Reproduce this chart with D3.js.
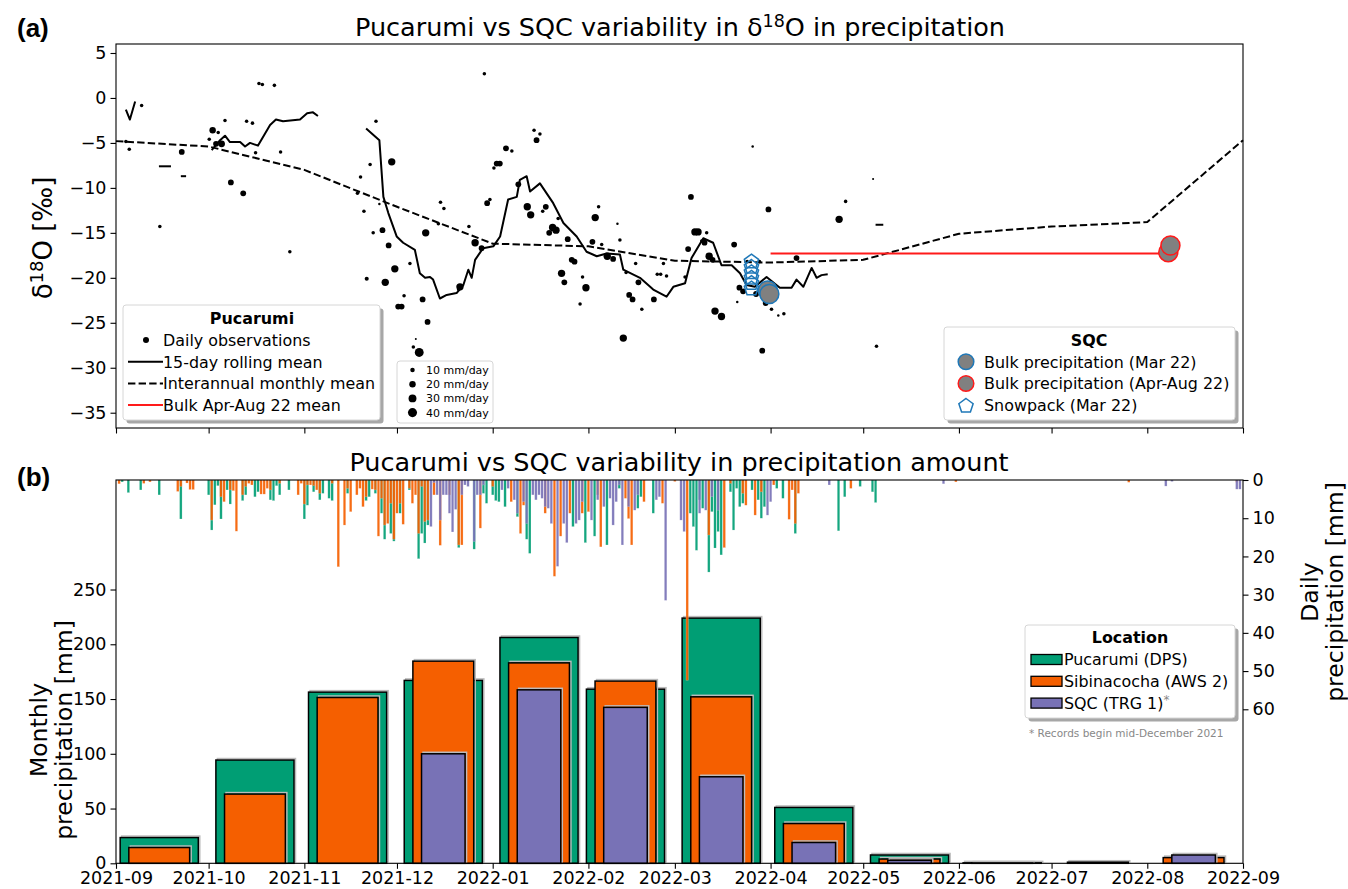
<!DOCTYPE html>
<html>
<head>
<meta charset="utf-8">
<script src="https://cdn.jsdelivr.net/npm/d3@7"></script>
<style>
body { margin: 0; background: #fff; }
svg { font-family: 'DejaVu Sans', sans-serif; }
</style>
</head>
<body>
<svg id="chart" width="1348" height="889"></svg>
<script>
// ---- data (day index counted from 2021-09-01) ----
const monthStarts = ['2021-09', '2021-10', '2021-11', '2021-12', '2022-01', '2022-02', '2022-03',
    '2022-04', '2022-05', '2022-06', '2022-07', '2022-08', '2022-09'];

// interannual monthly mean d18O at each month start
const interannualMean = [-4.8, -5.4, -8.0, -12.1, -16.2, -16.5, -18.1, -18.3, -18.0, -15.1, -14.3, -13.8, -4.7];

// 15-day rolling mean, split where the record has gaps
const rollingMean = [
    [[3.2, -1.3], [4.5, -2.4], [6.2, -0.4]],
    [[13.9, -7.6], [17.8, -7.6]],
    [[21, -8.7], [22.7, -8.7]],
    [[31, -5.8], [33.7, -4.7], [35.3, -4.2], [36.9, -4.9], [40.2, -4.9], [41.8, -5.4], [43.4, -5.0], [46, -5.3],
        [49.9, -3.0], [51.8, -2.4], [54.1, -2.6], [59.6, -2.4], [61.9, -1.7], [63.8, -1.6], [65.4, -2.0]],
    [[81, -3.4], [85.3, -4.7], [86.6, -11], [88.2, -12.8], [90.9, -15.4], [93, -16.1], [96.8, -16.9], [98.4, -19.5],
        [100.1, -20], [101.7, -19.9], [102.7, -20.2], [104.9, -22.3], [107.1, -21.9], [110.3, -21.7], [112.5, -20.8],
        [114.1, -19.1], [115.2, -20], [116.3, -18], [118.9, -16.7], [122.2, -16.5], [124.4, -15.4], [127, -11.3],
        [129.8, -11], [130.8, -9.1], [133, -8.7], [134.1, -10.4], [137.3, -9.5], [141.6, -11.7], [144.9, -13.9],
        [149.2, -15.4], [152.4, -17.1], [155.7, -17.6], [158.9, -17.3], [163.2, -17.4], [164.3, -19.1], [169.7, -20],
        [174, -21.3], [178.3, -22.1], [180.5, -21], [184.3, -20.6], [186.4, -17.8], [190.2, -15.6], [193.4, -16.1],
        [196.1, -18.6], [199.4, -18.6], [202.1, -19.5], [204.2, -20.8], [206.9, -21], [210.7, -19.9], [215, -21.1],
        [218.8, -21.1], [220.4, -20.2], [222.6, -21], [225.3, -18.9], [226.9, -20], [228.5, -19.7], [230.5, -19.6]],
    [[246, -14.1], [248.5, -14.1]]
];

// daily observations: [day, d18O, precipitation mm/day]
const dailyObs = [
    [3.2, -4.85, 6], [4.3, -5.7, 6], [8.3, -0.85, 6], [14.2, -14.3, 6], [21.3, -6.0, 16], [30.2, -4.6, 6],
    [31.3, -3.6, 20], [33.1, -3.85, 6], [32.4, -5.1, 16], [34.2, -5.1, 22], [35.3, -2.5, 6], [37.2, -9.4, 16],
    [41.2, -10.6, 16], [42.3, -2.6, 6], [44.2, -2.8, 6], [45.2, -6.1, 6], [46.3, 1.6, 6], [47.4, 1.5, 6],
    [51.3, 1.4, 6], [53.3, -6.0, 6], [56.3, -17.1, 6],
    [78.2, -10.6, 6], [79.2, -8.8, 6], [80.3, -12.6, 6], [81.2, -20.1, 8], [82.3, -7.4, 6], [83.3, -15, 6],
    [84.2, -2.6, 6], [85.3, -11.8, 3], [86.3, -14.7, 16], [87.2, -20.5, 26], [88.3, -16.4, 16], [89.3, -7.1, 26],
    [90.3, -19, 26], [91.4, -23.2, 16], [92.5, -23.2, 16], [93.3, -22, 6], [95.2, -18.4, 6], [96.3, -27.7, 6],
    [97.1, -26.8, 2], [98.2, -28.3, 38], [99.3, -22.4, 16], [100.3, -15, 26], [100.9, -24.9, 16],
    [104.4, -14, 6], [105.1, -11.6, 6], [106.2, -12.3, 6], [111, -21.3, 6], [111.4, -21, 26], [114.3, -14.3, 6],
    [116.3, -16.1, 26], [118.4, -16.7, 16], [119.3, 2.7, 6], [120.2, -11.7, 16], [121.1, -11.3, 6],
    [122.4, -7.8, 6], [123.3, -7.3, 16], [124.3, -7.3, 16], [126.3, -5.6, 16], [128.2, -5.9, 6],
    [130.3, -9.6, 16], [133.2, -12.1, 26], [134.3, -13, 26], [135.4, -3.6, 6], [136.2, -4.7, 16], [137.3, -4, 6],
    [138.2, -12.6, 6], [139.2, -12.1, 16], [140.3, -15, 16], [141.4, -14.4, 26], [142.5, -14.7, 26],
    [143.2, -13.4, 6], [144.3, -19.5, 26], [145.2, -20.5, 16], [146.3, -15.7, 16], [147.6, -18, 16],
    [148.5, -18.2, 16], [150.3, -22.9, 6], [151.1, -19.9, 6], [152.2, -21.1, 26], [154.3, -16, 16],
    [155.2, -13.3, 26], [156.3, -12.1, 6], [157.3, -16.3, 6], [159.1, -17.6, 26], [161, -17.9, 16],
    [162.4, -14, 3], [163.2, -15.8, 6], [164.3, -26.7, 26], [165.2, -19.4, 6], [166.2, -21.9, 16],
    [167.3, -22.4, 16], [168.3, -18.4, 6], [169.2, -20.5, 16], [170.3, -23.5, 6], [174.2, -22.4, 16],
    [175.3, -19.6, 6], [176.4, -19.6, 6], [177.3, -18.4, 6], [178.3, -19.8, 6], [184.3, -19.9, 6],
    [185.3, -16.8, 16], [186.2, -11, 16], [187.5, -14.9, 26], [188.5, -14.9, 26], [189.7, -15.9, 6],
    [190.6, -16.1, 16], [191.3, -15, 6], [192.1, -17.6, 26], [193.2, -18, 16], [194, -23.7, 26],
    [196.1, -24.3, 26], [200.2, -16.3, 16], [201.2, -22.7, 3], [201.9, -21.1, 16], [203.1, -21.5, 16],
    [204.4, -18.2, 6], [206.2, -5.4, 3], [207.3, -21.8, 16], [208.4, -18.2, 6], [209.3, -28.1, 16],
    [210.4, -22.8, 16], [211.3, -12.4, 16], [212.3, -23.5, 6], [214.5, -24.2, 3], [216.3, -24, 6],
    [220.4, -17.8, 16], [234.2, -13.5, 26], [236.3, -11.5, 6], [245.2, -9, 2], [246.3, -27.6, 6]
];

const bulkAprAugMean = { from: 212, to: 341, value: -17.3 };
const sqcBulkMar = [[211.1, -21.4], [211.6, -21.8]];
const sqcBulkAprAug = [[340.8, -17.15], [341.5, -16.4]];
const sqcSnowpack = [[205.8, -18.2], [205.8, -18.8], [205.8, -19.4], [205.8, -20.0], [205.8, -20.6], [205.8, -21.2]];

const sizeLegend = [10, 20, 30, 40];

// monthly totals, mm
const monthlyPucarumi = [23.5, 94.3, 156.3, 167, 206.2, 159, 223.9, 51, 7.6, 0.4, 0, 0];
const monthlySibinacocha = [14.4, 63.2, 151.4, 184.6, 183, 166.4, 152, 36.3, 3.9, 0.2, 1.0, 5.2];
const monthlySQC = [0, 0, 0, 100, 158.4, 142.4, 79, 19, 2.7, 0, 0, 7.6];

// daily totals: [day, mm]
const dailyPucarumi = [
    [2, 0.5], [4, 3.3], [8, 2.6], [14, 3.9], [21, 10.2], [30, 3.9], [31, 13.1], [32, 6.5], [33, 1.5], [34, 10.2],
    [36, 2.6], [37, 6.3], [41, 5.4], [42, 3.9], [45, 4.4], [46, 3.1], [50, 5.2], [51, 5.4], [52, 1.5], [53, 3.9],
    [56, 2.6], [61, 10.2], [62, 6.6], [64, 3.1], [66, 5.2], [67, 3.5], [69, 4.8], [70, 5.4], [75, 3.5], [81, 5.4],
    [82, 4.4], [84, 3.5], [86, 8.7], [87, 15.5], [89, 14], [90, 16], [92, 8.7], [95, 2.6], [98, 20.6], [99, 14],
    [100, 16.5], [101, 11.8], [111, 17.7], [116, 18.1], [119, 3.5], [120, 6.1], [122, 3.9], [123, 5.4],
    [124, 5.7], [126, 7], [130, 9.6], [133, 15.5], [134, 19.2], [148, 12.2], [152, 16.4], [155, 14.7], [159, 17],
    [163, 2.2], [169, 7.4], [170, 4.4], [174, 8.7], [186, 8.7], [187, 12.2], [188, 18.4], [189, 5.2], [190, 7.4],
    [192, 24.1], [193, 8.3], [194, 17.8], [195, 13.5], [196, 19.6], [199, 3.1], [200, 13.1], [201, 2.2],
    [202, 7], [203, 6.1], [206, 2.6], [208, 5.2], [209, 10], [210, 7], [214, 2.2], [216, 4.8], [220, 14],
    [234, 13.3], [236, 4.4], [241, 1.7], [245, 3.1], [246, 5.9]
];
const dailySibinacocha = [
    [1, 1], [9, 0.9], [11, 0.5], [20, 3], [21, 1.7], [23, 0.8], [24, 2.5], [25, 2.5], [31, 10.5], [34, 4.4],
    [35, 5.7], [37, 2.6], [38, 2.8], [39, 13.4], [41, 3.9], [42, 1.7], [43, 0.9], [44, 1.3], [47, 3.7], [48, 3.7],
    [49, 2.2], [50, 2.6], [53, 0.9], [59, 3.9], [60, 0.9], [61, 6.3], [62, 1.3], [63, 1.3], [64, 1.5], [65, 2.6],
    [66, 3.5], [70, 0.9], [72, 22.7], [74, 11.8], [75, 2.2], [76, 8.3], [78, 3.9], [79, 2.2], [80, 7], [81, 4.4],
    [83, 2.4], [84, 2.6], [85, 14.7], [86, 4.8], [87, 11.8], [88, 11.4], [89, 6.1], [90, 15.5], [91, 8.7],
    [92, 6.1], [93, 11.6], [95, 2.2], [96, 6.1], [97, 3.9], [98, 14], [99, 1.7], [100, 10.9], [101, 10.5],
    [103, 3.9], [105, 17.1], [108, 3.9], [111, 17], [112, 17], [118, 12.6], [122, 1.7], [128, 5.7], [131, 14],
    [132, 6.6], [139, 8.7], [142, 25.2], [144, 14.7], [147, 8.7], [151, 8.7], [153, 8.3], [156, 3.9], [157, 17.5],
    [165, 4.8], [166, 10.1], [167, 17], [171, 5.7], [177, 6.1], [181, 0.4], [185, 52.4], [192, 14.4], [197, 17.7],
    [199, 0.9], [203, 3.5], [204, 6.6], [207, 9.2], [209, 3.1], [213, 1.3], [218, 10.3], [219, 2.6], [220, 11.4],
    [221, 3.5], [238, 2.2], [272, 0.5], [328, 0.6], [363, 0.6]
];
const dailySQC = [
    [102, 12.2], [103, 0.7], [104, 3.9], [105, 10.5], [106, 3.9], [107, 3.9], [108, 8.7], [109, 13.6], [110, 7.7],
    [112, 3.9], [113, 1.3], [114, 1.7], [116, 16.1], [117, 3.9], [118, 3.9], [119, 1.3], [125, 2.6], [127, 2.2],
    [129, 5.2], [130, 8.7], [132, 5.7], [133, 11.4], [135, 3.9], [136, 5.2], [137, 3.9], [138, 4.8], [139, 7],
    [140, 7.4], [141, 11.4], [143, 22.6], [145, 11.4], [146, 16.4], [149, 11.4], [150, 10.5], [151, 5.7],
    [154, 10.5], [156, 5.2], [158, 7], [160, 4.8], [161, 11.8], [162, 5.7], [163, 1.3], [164, 17], [166, 7],
    [168, 7.9], [169, 3.9], [175, 5.2], [176, 4.4], [178, 31.5], [183, 10.5], [184, 13.5], [189, 8.7], [191, 7.9],
    [193, 4.4], [195, 7.9], [211, 9.2], [212, 5.7], [231, 1.3], [268, 1], [340, 1.6], [342, 0.4], [363, 2.4],
    [364, 2.4]
];

const green = '#009e74', orange = '#f55f00', purple = '#7872b6';
const blue = '#1f78b8', red = '#ff1a1a';

// ---- setup ----
const svg = d3.select('#chart');
const t0 = Date.UTC(2021, 8, 1);
const dayToDate = d => new Date(t0 + d * 864e5);
const parseMonth = d3.utcParse('%Y-%m');

const left = 116, right = 1243;
const top1 = 44, bottom1 = 428, top2 = 480, bottom2 = 863.3;

const x = d3.scaleUtc()
    .domain([parseMonth('2021-09'), parseMonth('2022-09')])
    .range([left, right]);
const yIso = d3.scaleLinear().domain([-36.7, 6]).range([bottom1, top1]);
const yMonth = d3.scaleLinear().domain([0, 350]).range([bottom2, top2]);
const yDaily = d3.scaleLinear().domain([0, 100.3]).range([top2, bottom2]);
const rSize = mm => 0.72 * Math.sqrt(mm);
const minus = d => d < 0 ? '\u2212' + Math.abs(d) : String(d);

const tickFont = 17.5, legFont = 15.9, titleFont = 25.5;

function styleAxis(g) {
    g.select('.domain').remove();
    g.selectAll('line').attr('stroke', '#000').attr('stroke-width', 1.1);
    g.selectAll('text').attr('font-size', tickFont).attr('fill', '#000')
        .attr('font-family', 'DejaVu Sans, sans-serif');
}

function legendBox(x0, y0, w, h) {
    svg.append('rect').attr('x', x0 + 3.5).attr('y', y0 + 3.5).attr('width', w).attr('height', h)
        .attr('rx', 3).attr('fill', '#8a8a8a').attr('opacity', 0.75);
    svg.append('rect').attr('x', x0).attr('y', y0).attr('width', w).attr('height', h)
        .attr('rx', 3).attr('fill', '#fff').attr('stroke', '#d6d6d6').attr('stroke-width', 1);
}

function pentagon(cx, cy, r) {
    return d3.range(5).map(k => {
        const a = -Math.PI / 2 + k * 2 * Math.PI / 5;
        return [cx + r * Math.cos(a), cy + r * Math.sin(a)];
    }).join(' ');
}

// ---- panel (a) ----
svg.append('text').attr('x', 17).attr('y', 37).attr('font-size', 26).attr('font-weight', 'bold')
    .attr('font-family', 'Liberation Sans, Arial, sans-serif').text('(a)');

const title1 = svg.append('text').attr('x', 680).attr('y', 36).attr('text-anchor', 'middle').attr('font-size', titleFont);
title1.append('tspan').text('Pucarumi vs SQC variability in \u03b4');
title1.append('tspan').attr('dy', -9).attr('font-size', 17.5).text('18');
title1.append('tspan').attr('dy', 9).text('O in precipitation');

const plotA = svg.append('g');

plotA.selectAll('circle.obs')
    .data(dailyObs)
    .enter()
    .append('circle')
    .attr('class', 'obs')
    .attr('cx', d => x(dayToDate(d[0])))
    .attr('cy', d => yIso(d[1]))
    .attr('r', d => rSize(d[2]))
    .attr('fill', '#000');

const isoLine = d3.line()
    .x(d => x(dayToDate(d[0])))
    .y(d => yIso(d[1]));

plotA.selectAll('path.roll')
    .data(rollingMean)
    .enter()
    .append('path')
    .attr('class', 'roll')
    .attr('d', isoLine)
    .attr('fill', 'none')
    .attr('stroke', '#000')
    .attr('stroke-width', 2)
    .attr('stroke-linejoin', 'round');

plotA.append('path')
    .attr('d', d3.line()
        .x((d, i) => x(parseMonth(monthStarts[i])))
        .y(d => yIso(d))(interannualMean))
    .attr('fill', 'none')
    .attr('stroke', '#000')
    .attr('stroke-width', 2)
    .attr('stroke-dasharray', '7.4,3.2');

plotA.append('line')
    .attr('x1', x(dayToDate(bulkAprAugMean.from)))
    .attr('x2', x(dayToDate(bulkAprAugMean.to)))
    .attr('y1', yIso(bulkAprAugMean.value))
    .attr('y2', yIso(bulkAprAugMean.value))
    .attr('stroke', red)
    .attr('stroke-width', 2);

plotA.selectAll('polygon.snow')
    .data(sqcSnowpack)
    .enter()
    .append('polygon')
    .attr('class', 'snow')
    .attr('points', d => pentagon(x(dayToDate(d[0])), yIso(d[1]), 7.5))
    .attr('fill', 'none')
    .attr('stroke', blue)
    .attr('stroke-width', 1.5);

plotA.selectAll('circle.bulkMar')
    .data(sqcBulkMar)
    .enter()
    .append('circle')
    .attr('class', 'bulkMar')
    .attr('cx', d => x(dayToDate(d[0])))
    .attr('cy', d => yIso(d[1]))
    .attr('r', 9.5)
    .attr('fill', '#808080')
    .attr('stroke', blue)
    .attr('stroke-width', 1.5);

plotA.selectAll('circle.bulkAA')
    .data(sqcBulkAprAug)
    .enter()
    .append('circle')
    .attr('class', 'bulkAA')
    .attr('cx', d => x(dayToDate(d[0])))
    .attr('cy', d => yIso(d[1]))
    .attr('r', 9.5)
    .attr('fill', '#808080')
    .attr('stroke', red)
    .attr('stroke-width', 1.5);

svg.append('rect').attr('x', left).attr('y', top1).attr('width', right - left).attr('height', bottom1 - top1)
    .attr('fill', 'none').attr('stroke', '#000').attr('stroke-width', 1.1);

svg.append('g')
    .attr('transform', `translate(0,${bottom1})`)
    .call(d3.axisBottom(x).ticks(d3.utcMonth.every(1)).tickSize(5.5).tickFormat(''))
    .call(styleAxis);

svg.append('g')
    .attr('transform', `translate(${left},0)`)
    .call(d3.axisLeft(yIso).tickValues(d3.range(5, -36, -5)).tickSize(5.5).tickPadding(4).tickFormat(minus))
    .call(styleAxis);

const ylabA = svg.append('text')
    .attr('transform', 'translate(52,238) rotate(-90)')
    .attr('text-anchor', 'middle')
    .attr('font-size', 26);
ylabA.append('tspan').text('\u03b4');
ylabA.append('tspan').attr('dy', -9).attr('font-size', 18).text('18');
ylabA.append('tspan').attr('dy', 9).text('O [\u2030]');

// Pucarumi legend
legendBox(123, 305, 257, 115);
svg.append('text').attr('x', 252).attr('y', 324).attr('text-anchor', 'middle').attr('font-size', legFont)
    .attr('font-weight', 'bold').text('Pucarumi');
const pucItems = ['Daily observations', '15-day rolling mean', 'Interannual monthly mean', 'Bulk Apr-Aug 22 mean'];
pucItems.forEach((t, i) => {
    const yy = 340 + i * 21.7;
    svg.append('text').attr('x', 163).attr('y', yy + 5.8).attr('font-size', legFont).text(t);
});
svg.append('circle').attr('cx', 146).attr('cy', 340).attr('r', 3).attr('fill', '#000');
svg.append('line').attr('x1', 128).attr('x2', 163).attr('y1', 361.7).attr('y2', 361.7)
    .attr('stroke', '#000').attr('stroke-width', 2);
svg.append('line').attr('x1', 128).attr('x2', 163).attr('y1', 383.4).attr('y2', 383.4)
    .attr('stroke', '#000').attr('stroke-width', 2).attr('stroke-dasharray', '7.4,3.2');
svg.append('line').attr('x1', 128).attr('x2', 163).attr('y1', 405.1).attr('y2', 405.1)
    .attr('stroke', red).attr('stroke-width', 2);

// size legend
svg.append('rect').attr('x', 397).attr('y', 361).attr('width', 96).attr('height', 62)
    .attr('rx', 3).attr('fill', '#fff').attr('stroke', '#d6d6d6');
sizeLegend.forEach((mm, i) => {
    const yy = 370 + i * 14.2;
    svg.append('circle').attr('cx', 412.5).attr('cy', yy).attr('r', rSize(mm)).attr('fill', '#000');
    svg.append('text').attr('x', 426).attr('y', yy + 4).attr('font-size', 11).text(`${mm} mm/day`);
});

// SQC legend
legendBox(944, 327, 291, 93);
svg.append('text').attr('x', 1089).attr('y', 345.5).attr('text-anchor', 'middle').attr('font-size', legFont)
    .attr('font-weight', 'bold').text('SQC');
const sqcItems = ['Bulk precipitation (Mar 22)', 'Bulk precipitation (Apr-Aug 22)', 'Snowpack (Mar 22)'];
sqcItems.forEach((t, i) => {
    const yy = 361.7 + i * 21.8;
    svg.append('text').attr('x', 984).attr('y', yy + 5.8).attr('font-size', legFont).text(t);
});
svg.append('circle').attr('cx', 966).attr('cy', 361.7).attr('r', 7.8).attr('fill', '#808080')
    .attr('stroke', blue).attr('stroke-width', 1.5);
svg.append('circle').attr('cx', 966).attr('cy', 383.5).attr('r', 7.8).attr('fill', '#808080')
    .attr('stroke', red).attr('stroke-width', 1.5);
svg.append('polygon').attr('points', pentagon(966, 406, 7.5)).attr('fill', 'none')
    .attr('stroke', blue).attr('stroke-width', 1.5);

// ---- panel (b) ----
svg.append('text').attr('x', 17).attr('y', 486).attr('font-size', 26).attr('font-weight', 'bold')
    .attr('font-family', 'Liberation Sans, Arial, sans-serif').text('(b)');
svg.append('text').attr('x', 679).attr('y', 471).attr('text-anchor', 'middle').attr('font-size', titleFont)
    .text('Pucarumi vs SQC variability in precipitation amount');

const plotB = svg.append('g');

const monthCenter = i => {
    const end = d3.utcMonth.offset(parseMonth(monthStarts[i]), 1);
    return new Date(+end - 16 * 864e5);
};
const dayPx = x(dayToDate(1)) - x(dayToDate(0));

const monthlySeries = [
    { values: monthlyPucarumi, color: green, width: 25.3 },
    { values: monthlySibinacocha, color: orange, width: 19.7 },
    { values: monthlySQC, color: purple, width: 14.1 }
];

monthlySeries.forEach(s => {
    const bars = s.values.map((v, i) => ({ v, i })).filter(d => d.v > 0);
    // faint drop shadow
    plotB.selectAll(null)
        .data(bars)
        .enter()
        .append('rect')
        .attr('x', d => x(monthCenter(d.i)) - s.width * dayPx / 2 + 1.5)
        .attr('width', s.width * dayPx)
        .attr('y', d => yMonth(d.v) - 1.5)
        .attr('height', d => yMonth(0) - yMonth(d.v))
        .attr('fill', 'none')
        .attr('stroke', '#bbb')
        .attr('stroke-width', 1.5);
    plotB.selectAll(null)
        .data(bars)
        .enter()
        .append('rect')
        .attr('x', d => x(monthCenter(d.i)) - s.width * dayPx / 2)
        .attr('width', s.width * dayPx)
        .attr('y', d => yMonth(d.v))
        .attr('height', d => yMonth(0) - yMonth(d.v))
        .attr('fill', s.color)
        .attr('stroke', '#000')
        .attr('stroke-width', 1.5);
});

const dailySeries = [
    { values: dailyPucarumi, color: green },
    { values: dailySibinacocha, color: orange },
    { values: dailySQC, color: purple }
];

dailySeries.forEach(s => {
    plotB.selectAll(null)
        .data(s.values)
        .enter()
        .append('rect')
        .attr('x', d => x(dayToDate(d[0])) - 0.4 * dayPx)
        .attr('width', 0.8 * dayPx)
        .attr('y', top2)
        .attr('height', d => yDaily(d[1]) - top2)
        .attr('fill', s.color)
        .attr('fill-opacity', 0.92)
        .attr('stroke', '#fff')
        .attr('stroke-opacity', 0.35)
        .attr('stroke-width', 0.5);
});

svg.append('rect').attr('x', left).attr('y', top2).attr('width', right - left).attr('height', bottom2 - top2)
    .attr('fill', 'none').attr('stroke', '#000').attr('stroke-width', 1.1);

svg.append('g')
    .attr('transform', `translate(0,${bottom2})`)
    .call(d3.axisBottom(x).ticks(d3.utcMonth.every(1)).tickSize(5.5).tickPadding(2.5)
        .tickFormat(d3.utcFormat('%Y-%m')))
    .call(styleAxis);

svg.append('g')
    .attr('transform', `translate(${left},0)`)
    .call(d3.axisLeft(yMonth).tickValues(d3.range(0, 251, 50)).tickSize(5.5).tickPadding(4))
    .call(styleAxis);

svg.append('g')
    .attr('transform', `translate(${right},0)`)
    .call(d3.axisRight(yDaily).tickValues(d3.range(0, 61, 10)).tickSize(5.5).tickPadding(4))
    .call(styleAxis);

const ylabB = svg.append('text')
    .attr('transform', 'translate(47,730) rotate(-90)')
    .attr('text-anchor', 'middle')
    .attr('font-size', 23.5);
ylabB.append('tspan').attr('x', 0).attr('dy', 0).text('Monthly');
ylabB.append('tspan').attr('x', 0).attr('dy', 25).text('precipitation [mm]');

const ylabR = svg.append('text')
    .attr('transform', 'translate(1318,592) rotate(-90)')
    .attr('text-anchor', 'middle')
    .attr('font-size', 23.5);
ylabR.append('tspan').attr('x', 0).attr('dy', 0).text('Daily');
ylabR.append('tspan').attr('x', 0).attr('dy', 25).text('precipitation [mm]');

// Location legend
legendBox(1025, 625, 210, 93);
svg.append('text').attr('x', 1130).attr('y', 643).attr('text-anchor', 'middle').attr('font-size', legFont)
    .attr('font-weight', 'bold').text('Location');
const locItems = [['Pucarumi (DPS)', green], ['Sibinacocha (AWS 2)', orange], ['SQC (TRG 1)', purple]];
locItems.forEach((d, i) => {
    const yy = 659.5 + i * 21.8;
    svg.append('rect').attr('x', 1031).attr('y', yy - 5).attr('width', 31).attr('height', 10)
        .attr('fill', d[1]).attr('stroke', '#000').attr('stroke-width', 1.3);
    const t = svg.append('text').attr('x', 1064).attr('y', yy + 5.8).attr('font-size', legFont).text(d[0]);
    if (i === 2) {
        t.append('tspan').attr('dy', -5).attr('font-size', 12).attr('fill', '#888').text('*');
    }
});
svg.append('text').attr('x', 1029).attr('y', 737).attr('font-size', 10.5).attr('fill', '#888')
    .text('* Records begin mid-December 2021');
</script>
</body>
</html>
